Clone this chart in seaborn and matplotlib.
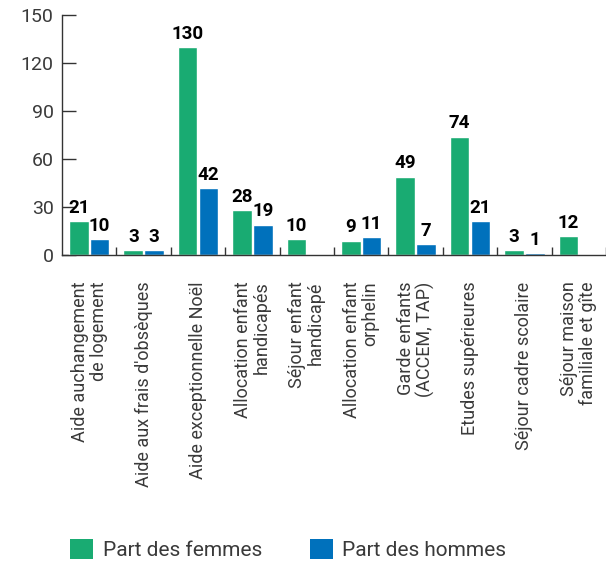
import numpy as np
import pandas as pd
import matplotlib
matplotlib.use("Agg")
import matplotlib.pyplot as plt
import seaborn as sns
from matplotlib.patches import Patch

categories = [
    "Aide auchangement\nde logement",
    "Aide aux frais d'obsèques",
    "Aide exceptionnelle Noël",
    "Allocation enfant\nhandicapés",
    "Séjour enfant\nhandicapé",
    "Allocation enfant\norphelin",
    "Garde enfants\n(ACCEM, TAP)",
    "Etudes supérieures",
    "Séjour cadre scolaire",
    "Séjour maison\nfamiliale et gîte",
]
femmes = [21, 3, 130, 28, 10, 9, 49, 74, 3, 12]
hommes = [10, 3, 42, 19, np.nan, 11, 7, 21, 1, np.nan]
series = ["Part des femmes", "Part des hommes"]
colors = ["#19AB72", "#0071BC"]
yticks = [0, 30, 60, 90, 120, 150]

sns.set_theme(style="white")
plt.rcParams["font.family"] = ["Roboto", "DejaVu Sans"]

df = pd.DataFrame({
    "cat": categories * 2,
    "val": femmes + hommes,
    "serie": [series[0]] * len(categories) + [series[1]] * len(categories),
})

W, H = 606, 561
fig = plt.figure(figsize=(W / 100, H / 100), dpi=100)
ax = fig.add_axes([62 / W, (H - 255) / H, (W - 62) / W, 240 / H])

sns.barplot(data=df, x="cat", y="val", hue="serie", palette=colors,
            width=0.76, gap=0.05, saturation=1, ax=ax, legend=False)

for cont in ax.containers:
    labels = ["" if np.isnan(v) else f"{int(v)}" for v in cont.datavalues]
    ax.bar_label(cont, labels=labels, padding=3, fontsize=13.5,
                 fontweight="bold", color="black")

ax.set_ylim(0, 150)
ax.set_xlim(-0.5, 9.3)
ax.set_yticks(yticks)
ax.set_xlabel("")
ax.set_ylabel("")

for s in ["top", "right"]:
    ax.spines[s].set_visible(False)
for s in ["left", "bottom"]:
    ax.spines[s].set_color("#333333")
    ax.spines[s].set_linewidth(1.0)

ax.tick_params(axis="y", direction="in", length=10, width=1, color="#333333",
               labelsize=14, labelcolor="#3a3a3a", pad=6, left=True)

# category labels at group centres, separator ticks between groups
ax.set_xticks(np.arange(len(categories)))
ax.set_xticklabels(categories, rotation=90, fontsize=13, color="#3a3a3a",
                   ha="center", va="top", linespacing=1.05)
for lab in ax.get_xticklabels():
    lab.set_multialignment("right")
ax.tick_params(axis="x", length=0, pad=19)
ax.set_xticks(np.arange(len(categories)) + 0.5, minor=True)
ax.tick_params(axis="x", which="minor", direction="in", length=6, width=1,
               color="#333333", bottom=True)

handles = [Patch(facecolor=c, edgecolor="none") for c in colors]
fig.legend(handles, series, loc="lower left", bbox_to_anchor=(62 / W, -7 / H),
           ncol=2, frameon=False, fontsize=15, handlelength=1.1,
           handleheight=1.1, handletextpad=0.45, columnspacing=2.3,
           labelcolor="#3a3a3a", borderaxespad=0.0)

fig.savefig("out.png", dpi=100)
